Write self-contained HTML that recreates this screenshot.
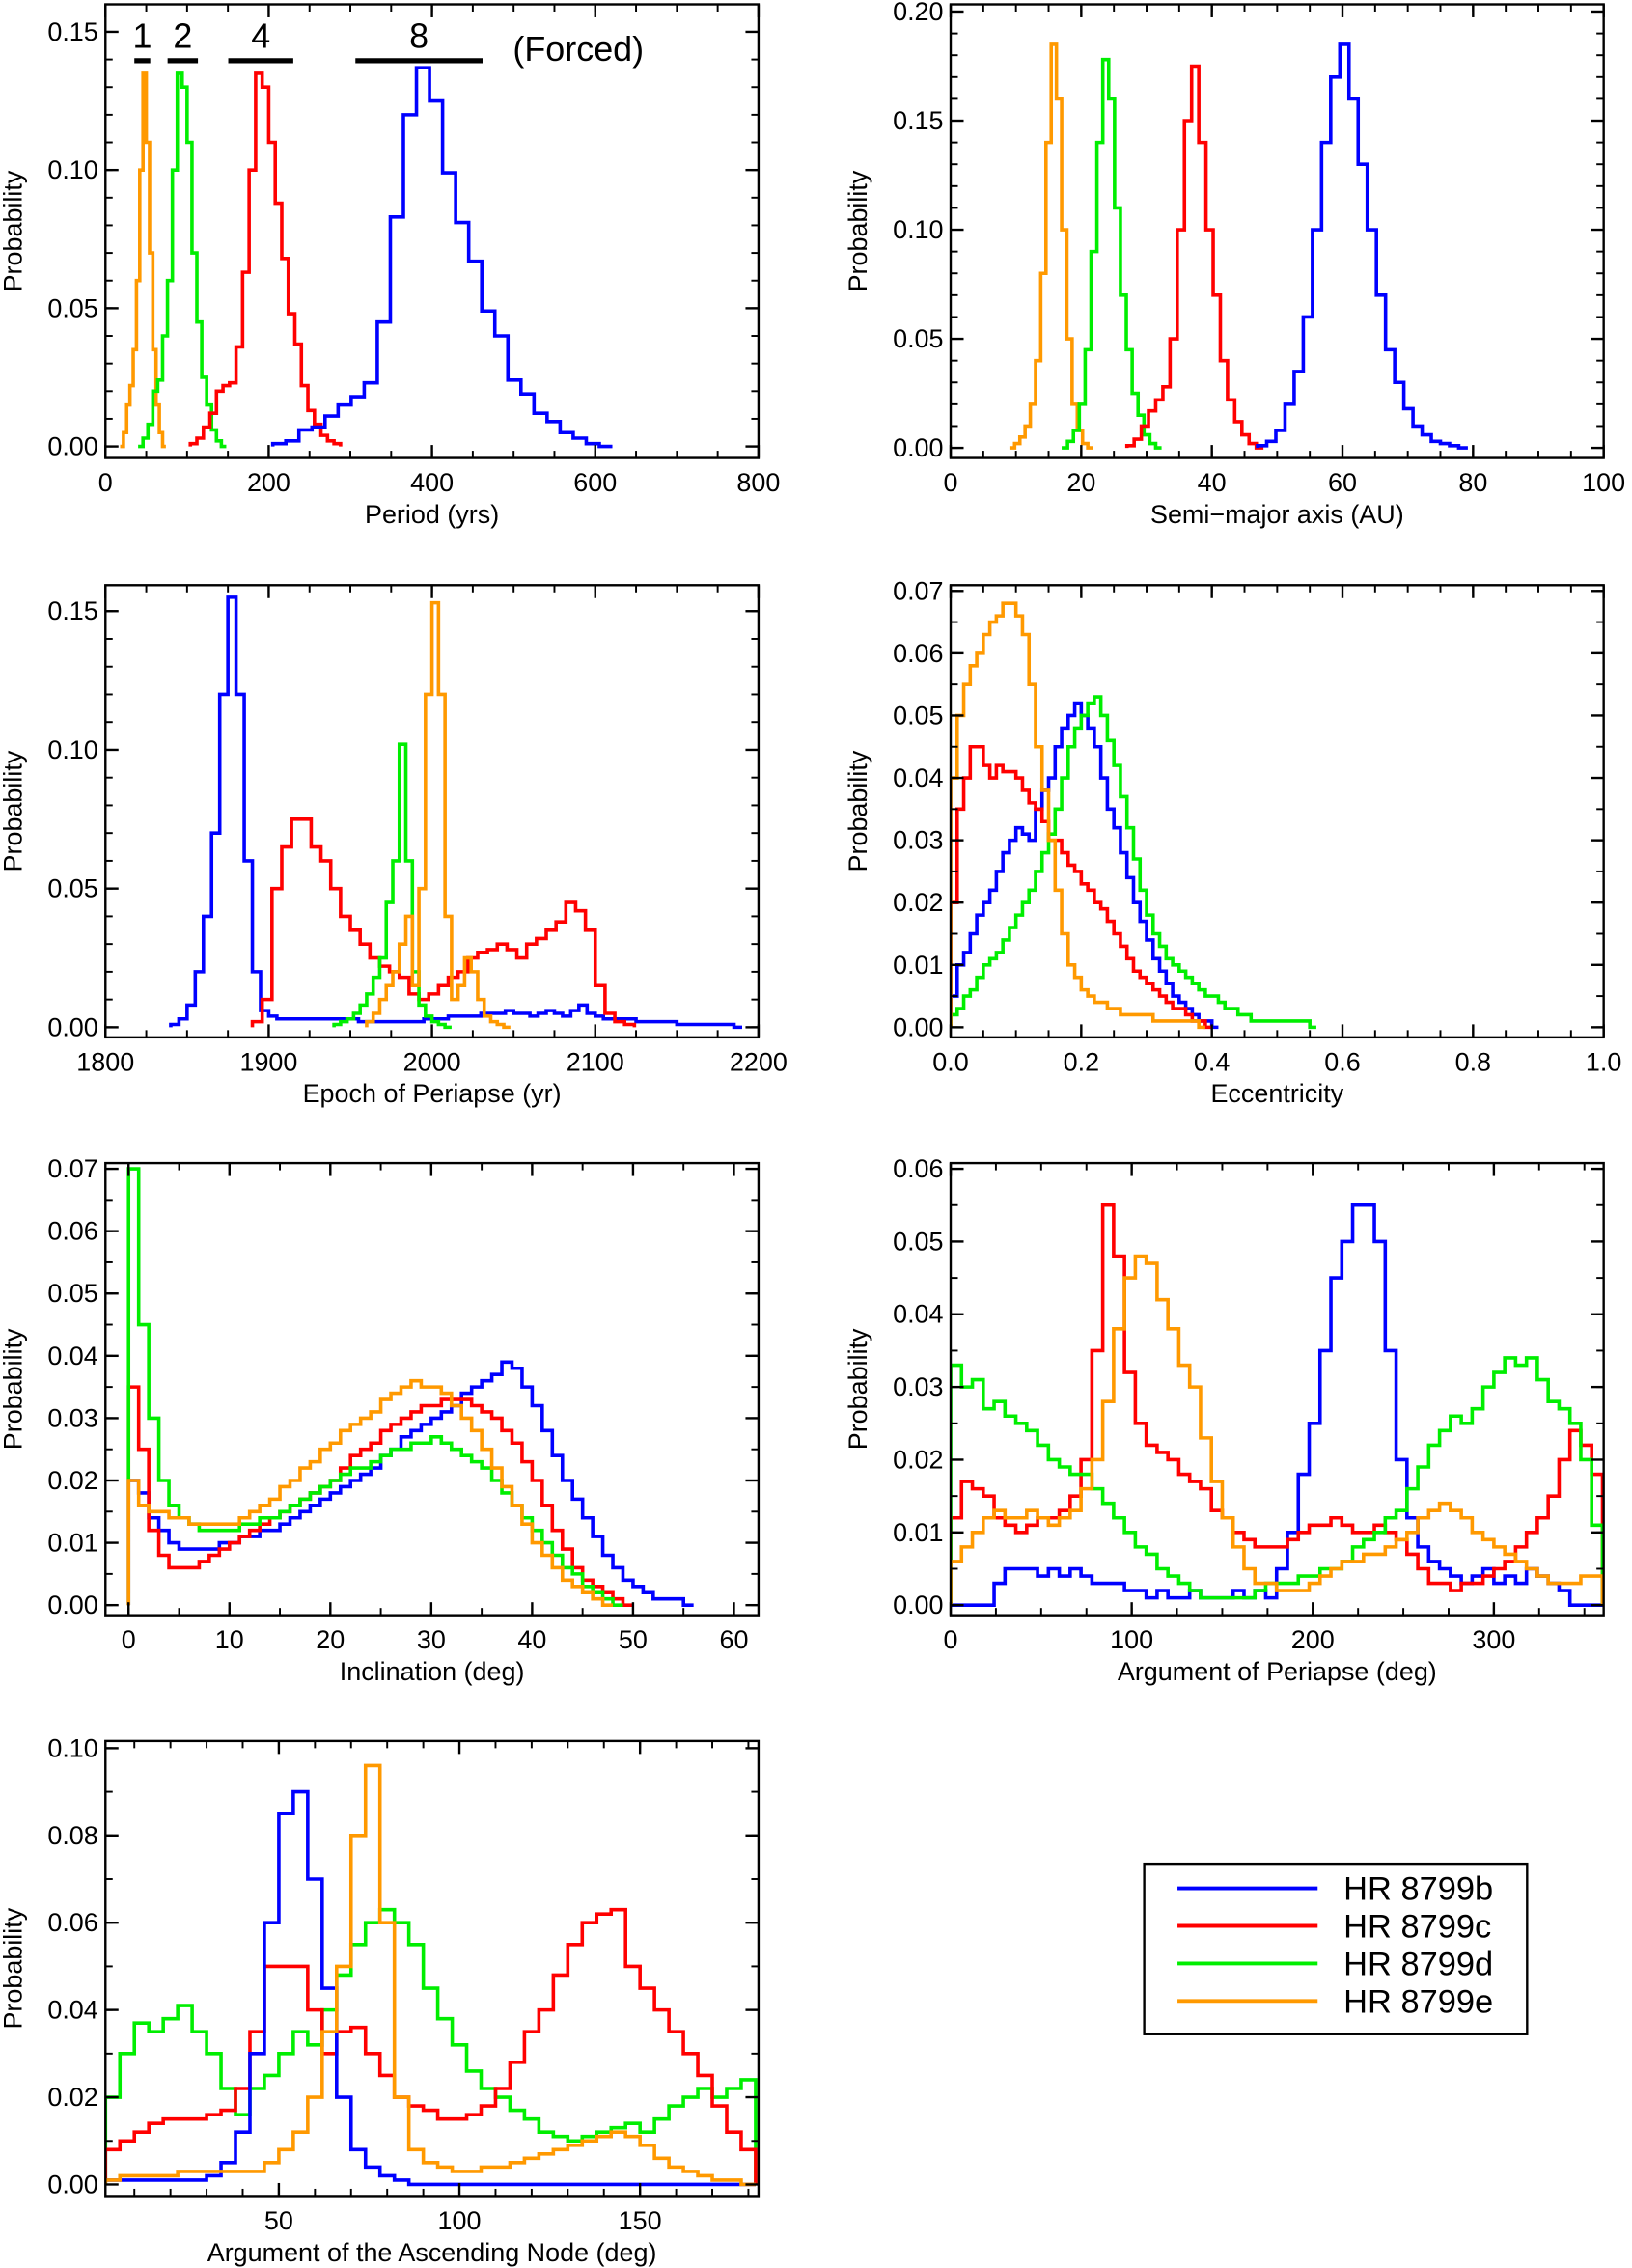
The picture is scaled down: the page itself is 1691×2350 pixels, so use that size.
<!DOCTYPE html>
<html><head><meta charset="utf-8"><style>
html,body{margin:0;padding:0;background:#fff;}
svg{display:block;font-family:"Liberation Sans",Arial,sans-serif;}
</style></head><body>
<svg id="fig" width="1691" height="2350" viewBox="0 0 1129.6 1569.8" xmlns="http://www.w3.org/2000/svg">
<rect x="0" y="0" width="1129.6" height="1569.8" fill="#fff"/>
</svg>
<script>
// ---- Data: Period (yrs)
const periodOrangeStart=[18], periodOrangeWidth=[4];
const periodOrange=[0,0.005,0.015,0.022,0.035,0.06,0.10,0.135,0.11,0.07,0.035,0.015,0.005,0];
const periodGreenStart=[40], periodGreenWidth=[6];
const periodGreen=[0,0.003,0.008,0.02,0.024,0.04,0.06,0.10,0.135,0.13,0.11,0.07,0.045,0.025,0.015,0.006,0.002,0];
const periodRedStart=[104], periodRedWidth=[8];
const periodRed=[0.001,0.003,0.007,0.012,0.020,0.022,0.023,0.036,0.063,0.10,0.135,0.13,0.11,0.088,0.068,0.048,0.037,0.022,0.013,0.008,0.004,0.002,0.001];
const periodBlueStart=[205], periodBlueWidth=[16];
const periodBlue=[0.001,0.002,0.006,0.007,0.011,0.015,0.018,0.023,0.045,0.083,0.12,0.137,0.125,0.099,0.081,0.067,0.049,0.04,0.024,0.019,0.012,0.009,0.005,0.003,0.001,0];
const periodXTicks=[0,200,400,600,800];
const periodYTicks=[0,0.05,0.10,0.15];
// ---- Semi-major axis
const smaOrangeStart=[9], smaOrangeWidth=[0.8];
const smaOrange=[0,0.002,0.005,0.01,0.02,0.04,0.08,0.14,0.185,0.16,0.10,0.05,0.02,0.008,0.002,0];
const smaGreenStart=[17], smaGreenWidth=[0.9];
const smaGreen=[0,0.003,0.008,0.02,0.045,0.09,0.14,0.178,0.16,0.11,0.07,0.045,0.025,0.015,0.006,0.002,0];
const smaRedStart=[27], smaRedWidth=[1.1];
const smaRed=[0.001,0.004,0.01,0.017,0.022,0.028,0.05,0.10,0.15,0.175,0.14,0.10,0.07,0.04,0.022,0.012,0.006,0.002,0];
const smaBlueStart=[47], smaBlueWidth=[1.4];
const smaBlue=[0.001,0.003,0.008,0.02,0.035,0.06,0.10,0.14,0.17,0.185,0.16,0.13,0.10,0.07,0.045,0.03,0.018,0.01,0.006,0.003,0.002,0.001,0];
const smaXTicks=[0,20,40,60,80,100];
const smaYTicks=[0,0.05,0.10,0.15,0.20];
// ---- Epoch of periapse
const epochBlueStart=[1840], epochBlueWidth=[5];
const epochBlue=[0.001,0.003,0.008,0.02,0.04,0.07,0.12,0.155,0.12,0.06,0.02,0.006,0.004,0.003,0.003,0.003,0.003,0.003,0.003,0.003,0.003,0.003,0.003,0.002,0.002,0.002,0.002,0.002,0.002,0.002,0.002,0.003,0.003,0.003,0.004,0.004,0.004,0.004,0.005,0.005,0.005,0.006,0.005,0.005,0.004,0.005,0.006,0.005,0.004,0.006,0.008,0.005,0.004,0.003,0.003,0.003,0.003,0.002,0.002,0.002,0.002,0.002,0.001,0.001,0.001,0.001,0.001,0.001,0.001,0];
const epochRedStart=[1890], epochRedWidth=[6];
const epochRed=[0.002,0.01,0.05,0.065,0.075,0.075,0.065,0.06,0.05,0.04,0.035,0.03,0.025,0.022,0.02,0.018,0.012,0.01,0.012,0.015,0.018,0.02,0.025,0.027,0.028,0.03,0.028,0.025,0.03,0.032,0.035,0.038,0.045,0.042,0.035,0.015,0.005,0.002,0.001];
const epochGreenStart=[1940], epochGreenWidth=[4];
const epochGreen=[0.001,0.002,0.003,0.005,0.008,0.012,0.018,0.025,0.045,0.06,0.102,0.06,0.02,0.008,0.004,0.002,0.001,0];
const epochOrangeStart=[1960], epochOrangeWidth=[4];
const epochOrange=[0.002,0.005,0.01,0.015,0.02,0.03,0.04,0.015,0.05,0.12,0.153,0.12,0.04,0.01,0.015,0.025,0.02,0.01,0.004,0.002,0.001,0];
const epochXTicks=[1800,1900,2000,2100,2200];
const epochYTicks=[0,0.05,0.10,0.15];
// ---- Eccentricity
const eccOrangeStart=[0], eccOrangeWidth=[0.01];
const eccOrange=[0.04,0.05,0.055,0.058,0.06,0.063,0.065,0.066,0.068,0.068,0.066,0.063,0.055,0.045,0.038,0.03,0.022,0.015,0.01,0.008,0.006,0.005,0.004,0.004,0.003,0.003,0.002,0.002,0.002,0.002,0.002,0.001,0.001,0.001,0.001,0.001,0.001,0.001,0];
const eccRedStart=[0], eccRedWidth=[0.01];
const eccRed=[0.02,0.035,0.04,0.045,0.045,0.042,0.04,0.042,0.041,0.041,0.04,0.038,0.036,0.035,0.033,0.03,0.03,0.028,0.026,0.025,0.023,0.022,0.02,0.019,0.017,0.015,0.013,0.011,0.009,0.008,0.007,0.006,0.005,0.004,0.003,0.003,0.002,0.001,0.001,0];
const eccBlueStart=[0], eccBlueWidth=[0.01];
const eccBlue=[0.005,0.01,0.012,0.015,0.018,0.02,0.022,0.025,0.028,0.03,0.032,0.031,0.03,0.035,0.038,0.04,0.045,0.048,0.05,0.052,0.05,0.048,0.045,0.04,0.035,0.032,0.028,0.024,0.02,0.017,0.014,0.011,0.009,0.007,0.005,0.004,0.003,0.002,0.001,0.001,0];
const eccGreenStart=[0], eccGreenWidth=[0.01];
const eccGreen=[0.002,0.003,0.005,0.006,0.008,0.01,0.011,0.012,0.014,0.016,0.018,0.02,0.022,0.025,0.028,0.031,0.035,0.04,0.045,0.048,0.05,0.052,0.053,0.05,0.046,0.042,0.037,0.032,0.027,0.022,0.018,0.015,0.013,0.011,0.01,0.009,0.008,0.007,0.006,0.005,0.005,0.004,0.003,0.003,0.002,0.002,0.001,0.001,0.001,0.001,0.001,0.001,0.001,0.001,0.001,0];
const eccXTicks=[0,0.2,0.4,0.6,0.8,1.0];
const eccYTicks=[0,0.01,0.02,0.03,0.04,0.05,0.06,0.07];
// ---- Inclination
const incStart=[0], incWidth=[1];
const incGreen=[0.07,0.045,0.03,0.02,0.016,0.014,0.013,0.012,0.012,0.012,0.012,0.013,0.013,0.014,0.014,0.015,0.016,0.017,0.018,0.019,0.02,0.021,0.022,0.022,0.023,0.024,0.025,0.025,0.026,0.026,0.027,0.026,0.025,0.024,0.023,0.022,0.02,0.018,0.016,0.014,0.012,0.01,0.008,0.006,0.005,0.003,0.002,0.001,0];
const incRed=[0.035,0.025,0.012,0.008,0.006,0.006,0.006,0.007,0.008,0.009,0.01,0.011,0.012,0.013,0.014,0.015,0.016,0.017,0.018,0.019,0.02,0.022,0.024,0.025,0.026,0.028,0.029,0.03,0.031,0.032,0.032,0.033,0.033,0.033,0.032,0.031,0.03,0.028,0.026,0.023,0.02,0.016,0.012,0.009,0.006,0.004,0.003,0.002,0.001,0];
const incBlue=[0.02,0.018,0.014,0.012,0.01,0.009,0.009,0.009,0.009,0.01,0.01,0.011,0.011,0.012,0.012,0.013,0.014,0.015,0.016,0.017,0.018,0.019,0.02,0.021,0.022,0.024,0.025,0.027,0.028,0.029,0.03,0.031,0.032,0.034,0.035,0.036,0.037,0.039,0.038,0.035,0.032,0.028,0.024,0.02,0.017,0.014,0.011,0.008,0.006,0.004,0.003,0.002,0.001,0.001,0.001,0];
const incOrange=[0.02,0.016,0.015,0.015,0.014,0.014,0.013,0.013,0.013,0.013,0.013,0.014,0.015,0.016,0.017,0.019,0.02,0.022,0.023,0.025,0.026,0.028,0.029,0.03,0.031,0.033,0.034,0.035,0.036,0.035,0.035,0.034,0.032,0.03,0.028,0.025,0.022,0.019,0.016,0.013,0.01,0.008,0.006,0.004,0.003,0.002,0.001,0];
const incXTicks=[0,10,20,30,40,50,60];
const incYTicks=[0,0.01,0.02,0.03,0.04,0.05,0.06,0.07];
// ---- Argument of periapse
const argpStart=[0], argpWidth=[6];
const argpBlue=[0,0,0,0,0.003,0.005,0.005,0.005,0.004,0.005,0.004,0.005,0.004,0.003,0.003,0.003,0.002,0.002,0.001,0.002,0.001,0.001,0.002,0.001,0.001,0.001,0.002,0.001,0.002,0.001,0.005,0.01,0.018,0.025,0.035,0.045,0.05,0.055,0.055,0.05,0.035,0.02,0.012,0.008,0.006,0.005,0.004,0.003,0.004,0.005,0.003,0.004,0.003,0.005,0.004,0.003,0.002,0,0,0];
const argpGreen=[0.033,0.03,0.031,0.027,0.028,0.026,0.025,0.024,0.022,0.02,0.019,0.018,0.018,0.016,0.014,0.012,0.01,0.008,0.007,0.005,0.004,0.003,0.002,0.001,0.001,0.001,0.001,0.001,0.002,0.003,0.003,0.003,0.004,0.004,0.005,0.005,0.006,0.008,0.009,0.01,0.012,0.013,0.016,0.019,0.022,0.024,0.026,0.025,0.027,0.03,0.032,0.034,0.033,0.034,0.031,0.028,0.027,0.025,0.02,0.011];
const argpRed=[0.012,0.017,0.016,0.015,0.012,0.011,0.01,0.011,0.012,0.012,0.013,0.015,0.02,0.035,0.055,0.048,0.032,0.025,0.022,0.021,0.02,0.018,0.017,0.016,0.013,0.012,0.01,0.009,0.008,0.008,0.008,0.009,0.01,0.011,0.011,0.012,0.011,0.01,0.01,0.011,0.01,0.009,0.007,0.005,0.003,0.003,0.002,0.003,0.003,0.004,0.005,0.006,0.008,0.01,0.012,0.015,0.02,0.024,0.022,0.018];
const argpOrange=[0.006,0.008,0.01,0.012,0.013,0.012,0.012,0.013,0.012,0.011,0.012,0.013,0.016,0.02,0.028,0.038,0.045,0.048,0.047,0.042,0.038,0.033,0.03,0.023,0.017,0.012,0.008,0.005,0.003,0.003,0.002,0.002,0.002,0.003,0.004,0.005,0.006,0.006,0.007,0.007,0.008,0.009,0.01,0.012,0.013,0.014,0.013,0.012,0.01,0.009,0.008,0.007,0.006,0.005,0.004,0.003,0.003,0.003,0.004,0.004];
const argpXTicks=[0,100,200,300];
const argpYTicks=[0,0.01,0.02,0.03,0.04,0.05,0.06];
// ---- Argument of ascending node
const nodeStart=[2], nodeWidth=[4];
const nodeBlueStart=[-2];
const nodeGreen=[0.02,0.03,0.037,0.035,0.038,0.041,0.035,0.03,0.022,0.016,0.022,0.025,0.03,0.035,0.032,0.04,0.048,0.055,0.06,0.063,0.06,0.055,0.045,0.038,0.032,0.026,0.022,0.02,0.017,0.015,0.012,0.011,0.01,0.011,0.012,0.013,0.014,0.012,0.015,0.018,0.02,0.022,0.02,0.022,0.024];
const nodeRed=[0.008,0.01,0.012,0.014,0.015,0.015,0.015,0.016,0.017,0.022,0.035,0.05,0.05,0.05,0.04,0.03,0.035,0.036,0.03,0.025,0.02,0.018,0.017,0.015,0.015,0.016,0.018,0.022,0.028,0.035,0.04,0.048,0.055,0.06,0.062,0.063,0.05,0.045,0.04,0.035,0.03,0.025,0.018,0.012,0.008];
const nodeBlue=[0.001,0.001,0.001,0.001,0.001,0.001,0.001,0.001,0.002,0.005,0.012,0.03,0.06,0.085,0.09,0.07,0.045,0.02,0.008,0.004,0.002,0.001,0,0,0,0,0,0,0,0,0,0,0,0,0,0,0,0,0,0,0,0,0,0,0,0];
const nodeOrange=[0.001,0.002,0.002,0.002,0.002,0.003,0.003,0.003,0.003,0.003,0.003,0.005,0.008,0.012,0.02,0.035,0.05,0.08,0.096,0.06,0.02,0.008,0.005,0.004,0.003,0.003,0.004,0.004,0.005,0.006,0.007,0.008,0.009,0.01,0.011,0.012,0.011,0.009,0.006,0.004,0.003,0.002,0.001,0.001,0];
const nodeXTicks=[50,100,150];
const nodeYTicks=[0,0.02,0.04,0.06,0.08,0.10];
const legendLabels=["HR 8799b","HR 8799c","HR 8799d","HR 8799e"];

const C={b:"#0000ff",c:"#ff0000",d:"#00ee00",e:"#ff9900"};
const NS="http://www.w3.org/2000/svg";
const svg=document.getElementById('fig');
function mk(tag,attrs,parent){const e=document.createElementNS(NS,tag);for(const k in attrs)e.setAttribute(k,attrs[k]);(parent||svg).appendChild(e);return e;}
function fmt(v,d){return v.toFixed(d);}

function panel(o){
  const g=mk('g',{});
  
  
  const X=v=>o.x0p+(v-o.x0v)*(o.x1p-o.x0p)/(o.x1v-o.x0v);
  const Y=v=>o.y0p+(v-o.y0v)*(o.y1p-o.y0p)/(o.y1v-o.y0v);
  const cid='clip-'+o.name;
  const cp=mk('clipPath',{id:cid},g);mk('rect',{x:o.L,y:o.T,width:o.R-o.L,height:o.B-o.T},cp);
  const sg=mk('g',{'clip-path':'url(#'+cid+')'},g);
  o.series.forEach(s=>{
    const st=s.start[0],w=s.width[0],vals=s.vals;
    let d='M'+X(st)+','+Y(0);
    vals.forEach((v,i)=>{d+=' L'+X(st+i*w)+','+Y(v)+' L'+X(st+(i+1)*w)+','+Y(v);});
    d+=' L'+X(st+vals.length*w)+','+Y(0);
    const p=mk('path',{d:d,fill:'none',stroke:s.color,'stroke-width':2.4,'stroke-linejoin':'miter'},sg);
    
    
  });
  const fr=mk('rect',{x:o.L,y:o.T,width:o.R-o.L,height:o.B-o.T,fill:'none',stroke:'#000','stroke-width':1.6},g);
  
  
  const xmaj=o.xticks;
  xmaj.forEach(v=>{const x=X(v);
    mk('line',{x1:x,x2:x,y1:o.B,y2:o.B-9,stroke:'#000','stroke-width':1.6},g);
    mk('line',{x1:x,x2:x,y1:o.T,y2:o.T+9,stroke:'#000','stroke-width':1.6},g);
    const t=mk('text',{x:x,y:o.B+23,'font-size':18,'text-anchor':'middle'},g);t.textContent=fmt(v,o.xd);
    
    
  });
  const xs=(xmaj[1]-xmaj[0])/o.xminor;
  for(let v=xmaj[0]-xs*20;v<=xmaj[xmaj.length-1]+xs*20;v+=xs){const x=X(v);if(x<o.L+1||x>o.R-1)continue;
    mk('line',{x1:x,x2:x,y1:o.B,y2:o.B-5,stroke:'#000','stroke-width':1.3},g);
    mk('line',{x1:x,x2:x,y1:o.T,y2:o.T+5,stroke:'#000','stroke-width':1.3},g);}
  o.yticks.forEach(v=>{const y=Y(v);
    mk('line',{x1:o.L,x2:o.L+9,y1:y,y2:y,stroke:'#000','stroke-width':1.6},g);
    mk('line',{x1:o.R,x2:o.R-9,y1:y,y2:y,stroke:'#000','stroke-width':1.6},g);
    const t=mk('text',{x:o.L-5,y:y+6,'font-size':18,'text-anchor':'end'},g);t.textContent=fmt(v,2);
    
    
  });
  const ys=(o.yticks[1]-o.yticks[0])/o.yminor;
  for(let v=0;v<=o.yticks[o.yticks.length-1]+ys*5;v+=ys){const y=Y(v);if(y<o.T+1||y>o.B-1)continue;
    mk('line',{x1:o.L,x2:o.L+5,y1:y,y2:y,stroke:'#000','stroke-width':1.3},g);
    mk('line',{x1:o.R,x2:o.R-5,y1:y,y2:y,stroke:'#000','stroke-width':1.3},g);}
  const xt=mk('text',{x:(o.L+o.R)/2,y:o.B+45,'font-size':18,'text-anchor':'middle'},g);xt.textContent=o.xlabel;
  
  
  const yc=(o.T+o.B)/2;
  const yt=mk('text',{x:o.L-58,y:yc,'font-size':18,'text-anchor':'middle',transform:'rotate(-90 '+(o.L-58)+' '+yc+')'},g);yt.textContent='Probability';
  
  
  return g;
}
const L1=73,R1=525,L2=658,R2=1110;
panel({name:'period-panel',L:L1,R:R1,T:3,B:317,x0v:0,x1v:800,x0p:73,x1p:525,y0v:0,y1v:0.15,y0p:309,y1p:22,xticks:periodXTicks,xd:0,xminor:4,yticks:periodYTicks,yminor:5,xlabel:'Period (yrs)',
 series:[{name:'period-hist-e',color:C.e,start:periodOrangeStart,width:periodOrangeWidth,vals:periodOrange},{name:'period-hist-d',color:C.d,start:periodGreenStart,width:periodGreenWidth,vals:periodGreen},{name:'period-hist-c',color:C.c,start:periodRedStart,width:periodRedWidth,vals:periodRed},{name:'period-hist-b',color:C.b,start:periodBlueStart,width:periodBlueWidth,vals:periodBlue}]});
panel({name:'sma-panel',L:L2,R:R2,T:3,B:317,x0v:0,x1v:100,x0p:658,x1p:1110,y0v:0,y1v:0.20,y0p:310,y1p:8,xticks:smaXTicks,xd:0,xminor:4,yticks:smaYTicks,yminor:5,xlabel:'Semi\u2212major axis (AU)',
 series:[{name:'sma-hist-e',color:C.e,start:smaOrangeStart,width:smaOrangeWidth,vals:smaOrange},{name:'sma-hist-d',color:C.d,start:smaGreenStart,width:smaGreenWidth,vals:smaGreen},{name:'sma-hist-c',color:C.c,start:smaRedStart,width:smaRedWidth,vals:smaRed},{name:'sma-hist-b',color:C.b,start:smaBlueStart,width:smaBlueWidth,vals:smaBlue}]});
panel({name:'epoch-panel',L:L1,R:R1,T:405,B:718,x0v:1800,x1v:2200,x0p:73,x1p:525,y0v:0,y1v:0.15,y0p:711,y1p:423,xticks:epochXTicks,xd:0,xminor:4,yticks:epochYTicks,yminor:5,xlabel:'Epoch of Periapse (yr)',
 series:[{name:'epoch-hist-b',color:C.b,start:epochBlueStart,width:epochBlueWidth,vals:epochBlue},{name:'epoch-hist-c',color:C.c,start:epochRedStart,width:epochRedWidth,vals:epochRed},{name:'epoch-hist-d',color:C.d,start:epochGreenStart,width:epochGreenWidth,vals:epochGreen},{name:'epoch-hist-e',color:C.e,start:epochOrangeStart,width:epochOrangeWidth,vals:epochOrange}]});
panel({name:'ecc-panel',L:L2,R:R2,T:405,B:718,x0v:0,x1v:1,x0p:658,x1p:1110,y0v:0,y1v:0.07,y0p:711,y1p:409,xticks:eccXTicks,xd:1,xminor:4,yticks:eccYTicks,yminor:2,xlabel:'Eccentricity',
 series:[{name:'ecc-hist-b',color:C.b,start:eccBlueStart,width:eccBlueWidth,vals:eccBlue},{name:'ecc-hist-c',color:C.c,start:eccRedStart,width:eccRedWidth,vals:eccRed},{name:'ecc-hist-d',color:C.d,start:eccGreenStart,width:eccGreenWidth,vals:eccGreen},{name:'ecc-hist-e',color:C.e,start:eccOrangeStart,width:eccOrangeWidth,vals:eccOrange}]});
panel({name:'inclination-panel',L:L1,R:R1,T:805,B:1118,x0v:0,x1v:60,x0p:89,x1p:508,y0v:0,y1v:0.07,y0p:1111,y1p:809,xticks:incXTicks,xd:0,xminor:2,yticks:incYTicks,yminor:2,xlabel:'Inclination (deg)',
 series:[{name:'inc-hist-b',color:C.b,start:incStart,width:incWidth,vals:incBlue},{name:'inc-hist-c',color:C.c,start:incStart,width:incWidth,vals:incRed},{name:'inc-hist-d',color:C.d,start:incStart,width:incWidth,vals:incGreen},{name:'inc-hist-e',color:C.e,start:incStart,width:incWidth,vals:incOrange}]});
panel({name:'argp-panel',L:L2,R:R2,T:805,B:1118,x0v:0,x1v:300,x0p:658,x1p:1034,y0v:0,y1v:0.06,y0p:1111,y1p:809,xticks:argpXTicks,xd:0,xminor:4,yticks:argpYTicks,yminor:2,xlabel:'Argument of Periapse (deg)',
 series:[{name:'argp-hist-b',color:C.b,start:argpStart,width:argpWidth,vals:argpBlue},{name:'argp-hist-c',color:C.c,start:argpStart,width:argpWidth,vals:argpRed},{name:'argp-hist-d',color:C.d,start:argpStart,width:argpWidth,vals:argpGreen},{name:'argp-hist-e',color:C.e,start:argpStart,width:argpWidth,vals:argpOrange}]});
panel({name:'node-panel',L:L1,R:R1,T:1205,B:1520,x0v:50,x1v:150,x0p:193,x1p:443,y0v:0,y1v:0.10,y0p:1512,y1p:1210,xticks:nodeXTicks,xd:0,xminor:5,yticks:nodeYTicks,yminor:2,xlabel:'Argument of the Ascending Node (deg)',
 series:[{name:'node-hist-d',color:C.d,start:nodeStart,width:nodeWidth,vals:nodeGreen},{name:'node-hist-c',color:C.c,start:nodeStart,width:nodeWidth,vals:nodeRed},{name:'node-hist-b',color:C.b,start:nodeBlueStart,width:nodeWidth,vals:nodeBlue},{name:'node-hist-e',color:C.e,start:nodeStart,width:nodeWidth,vals:nodeOrange}]});

const ann=[["1",93,104],["2",116,137],["4",158,203],["8",246,334]];
ann.forEach(a=>{
  const l=mk('line',{x1:a[1],x2:a[2],y1:42,y2:42,stroke:'#000','stroke-width':3.5});
  
  
  const t=mk('text',{x:(a[1]+a[2])/2,y:33,'font-size':24,'text-anchor':'middle'});t.textContent=a[0];
  
  
});
const forced=mk('text',{x:355,y:42,'font-size':24});forced.textContent='(Forced)';



const lg=mk('g',{});


mk('rect',{x:792,y:1290,width:265,height:118,fill:'#fff',stroke:'#000','stroke-width':1.6},lg);
const lc=[C.b,C.c,C.d,C.e];
legendLabels.forEach((s,i)=>{const y=1307+i*26;
  const e=mk('g',{},lg);
  
  
  mk('line',{x1:815,x2:912,y1:y,y2:y,stroke:lc[i],'stroke-width':2.6},e);
  const t=mk('text',{x:930,y:y+8,'font-size':23},e);t.textContent=s;
});
</script>
</body></html>
